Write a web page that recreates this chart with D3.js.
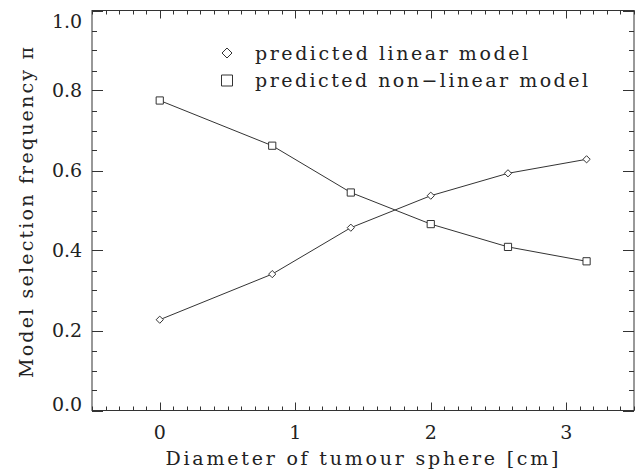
<!DOCTYPE html>
<html>
<head>
<meta charset="utf-8">
<script src="https://cdn.jsdelivr.net/npm/d3@7"></script>
<style>
  body { margin: 0; background: white; }
  svg { display: block; }
  text { font-family: "DejaVu Serif", serif; fill: #222; }
</style>
</head>
<body>
<div id="chart"></div>
<script>
// Diameter of tumour sphere [cm]
const diameters = [0, 0.83, 1.41, 2.0, 2.57, 3.15]
const linearFreq = [0.227, 0.341, 0.457, 0.537, 0.593, 0.628]
const nonLinearFreq = [0.775, 0.662, 0.545, 0.466, 0.409, 0.373]
const xTicks = [0, 1, 2, 3]
const yTicks = [0.0, 0.2, 0.4, 0.6, 0.8, 1.0]
const legendLabels = ["predicted linear model", "predicted non\u2212linear model"]

const width = 638
const height = 471
const margin = {top: 10.5, right: 4, bottom: 60.5, left: 92}

const x = d3.scaleLinear().domain([-0.5, 3.5]).range([margin.left, width - margin.right])
const y = d3.scaleLinear().domain([0, 1]).range([height - margin.bottom, margin.top])

const svg = d3.select("#chart").append("svg")
  .attr("width", width)
  .attr("height", height)

const ink = "#333"
const fontSize = 19
const x0 = x.range()[0], x1 = x.range()[1]
const y0 = y.range()[0], y1 = y.range()[1]

// frame
svg.append("rect")
  .attr("x", x0).attr("y", y1)
  .attr("width", x1 - x0).attr("height", y0 - y1)
  .attr("fill", "none").attr("stroke", ink).attr("stroke-width", 1)

// ticks, mirrored on all four sides
const xMinor = d3.range(-5, 36).map(d => d / 10)
const yMinor = d3.range(0, 21).map(d => d / 20)
const isMajor = (v, step) => Math.abs(v / step - Math.round(v / step)) < 1e-6

const ticks = svg.append("g").attr("stroke", ink).attr("stroke-width", 1)
for (const v of xMinor) {
  const len = isMajor(v, 1) ? 8 : 4
  const px = Math.round(x(v)) + 0.5
  ticks.append("line").attr("x1", px).attr("x2", px).attr("y1", y0).attr("y2", y0 - len)
  ticks.append("line").attr("x1", px).attr("x2", px).attr("y1", y1).attr("y2", y1 + len)
}
for (const v of yMinor) {
  const len = isMajor(v, 0.2) ? 11 : 5
  const py = Math.round(y(v)) + 0.5
  ticks.append("line").attr("y1", py).attr("y2", py).attr("x1", x0).attr("x2", x0 + len)
  ticks.append("line").attr("y1", py).attr("y2", py).attr("x1", x1).attr("x2", x1 - len)
}

// tick labels
svg.append("g").selectAll("text")
  .data(xTicks)
  .join("text")
    .attr("x", d => x(d))
    .attr("y", 439)
    .attr("text-anchor", "middle")
    .attr("font-size", fontSize)
    .text(d => d)

svg.append("g").selectAll("text")
  .data(yTicks)
  .join("text")
    .attr("x", 82)
    .attr("y", d => Math.min(Math.max(y(d), 21), 404))
    .attr("dy", "0.36em")
    .attr("text-anchor", "end")
    .attr("font-size", fontSize)
    .attr("textLength", 30)
    .attr("lengthAdjust", "spacing")
    .text(d => d.toFixed(1))

// axis titles (the original font is much wider, so stretch the spacing)
svg.append("text")
  .attr("x", (x0 + x1) / 2 - 1)
  .attr("y", 465)
  .attr("text-anchor", "middle")
  .attr("font-size", fontSize)
  .attr("textLength", 393)
  .attr("lengthAdjust", "spacing")
  .text("Diameter of tumour sphere [cm]")

svg.append("text")
  .attr("transform", `translate(33,${(y0 + y1) / 2 + 2}) rotate(-90)`)
  .attr("text-anchor", "middle")
  .attr("font-size", fontSize)
  .attr("textLength", 331)
  .attr("lengthAdjust", "spacing")
  .text("Model selection frequency \u03c0")

// series
const line = d3.line()
  .x(d => x(d[0]))
  .y(d => y(d[1]))

const diamond = (s) => `M0,${-s}L${s},0L0,${s}L${-s},0Z`
const square = (s) => `M${-s},${-s}H${s}V${s}H${-s}Z`

const series = [
  {values: d3.zip(diameters, linearFreq), shape: diamond(3.6)},
  {values: d3.zip(diameters, nonLinearFreq), shape: square(3.6)},
]

for (const s of series) {
  svg.append("path")
    .datum(s.values)
    .attr("d", line)
    .attr("fill", "none")
    .attr("stroke", ink)
    .attr("stroke-width", 1)

  svg.append("g").selectAll("path")
    .data(s.values)
    .join("path")
      .attr("transform", d => `translate(${x(d[0])},${y(d[1])})`)
      .attr("d", s.shape)
      .attr("fill", "white")
      .attr("stroke", ink)
      .attr("stroke-width", 1)
}

// legend
const legend = svg.append("g")
const legendShapes = [diamond(5), square(5.5)]
const legendWidths = [273, 333]
legendLabels.forEach((label, i) => {
  const ly = 53 + i * 27.5
  legend.append("path")
    .attr("transform", `translate(227,${ly})`)
    .attr("d", legendShapes[i])
    .attr("fill", "none")
    .attr("stroke", ink)
    .attr("stroke-width", 1)
  legend.append("text")
    .attr("x", 255)
    .attr("y", ly)
    .attr("dy", "0.35em")
    .attr("font-size", fontSize)
    .attr("textLength", legendWidths[i])
    .attr("lengthAdjust", "spacing")
    .text(label)
})
</script>
</body>
</html>
